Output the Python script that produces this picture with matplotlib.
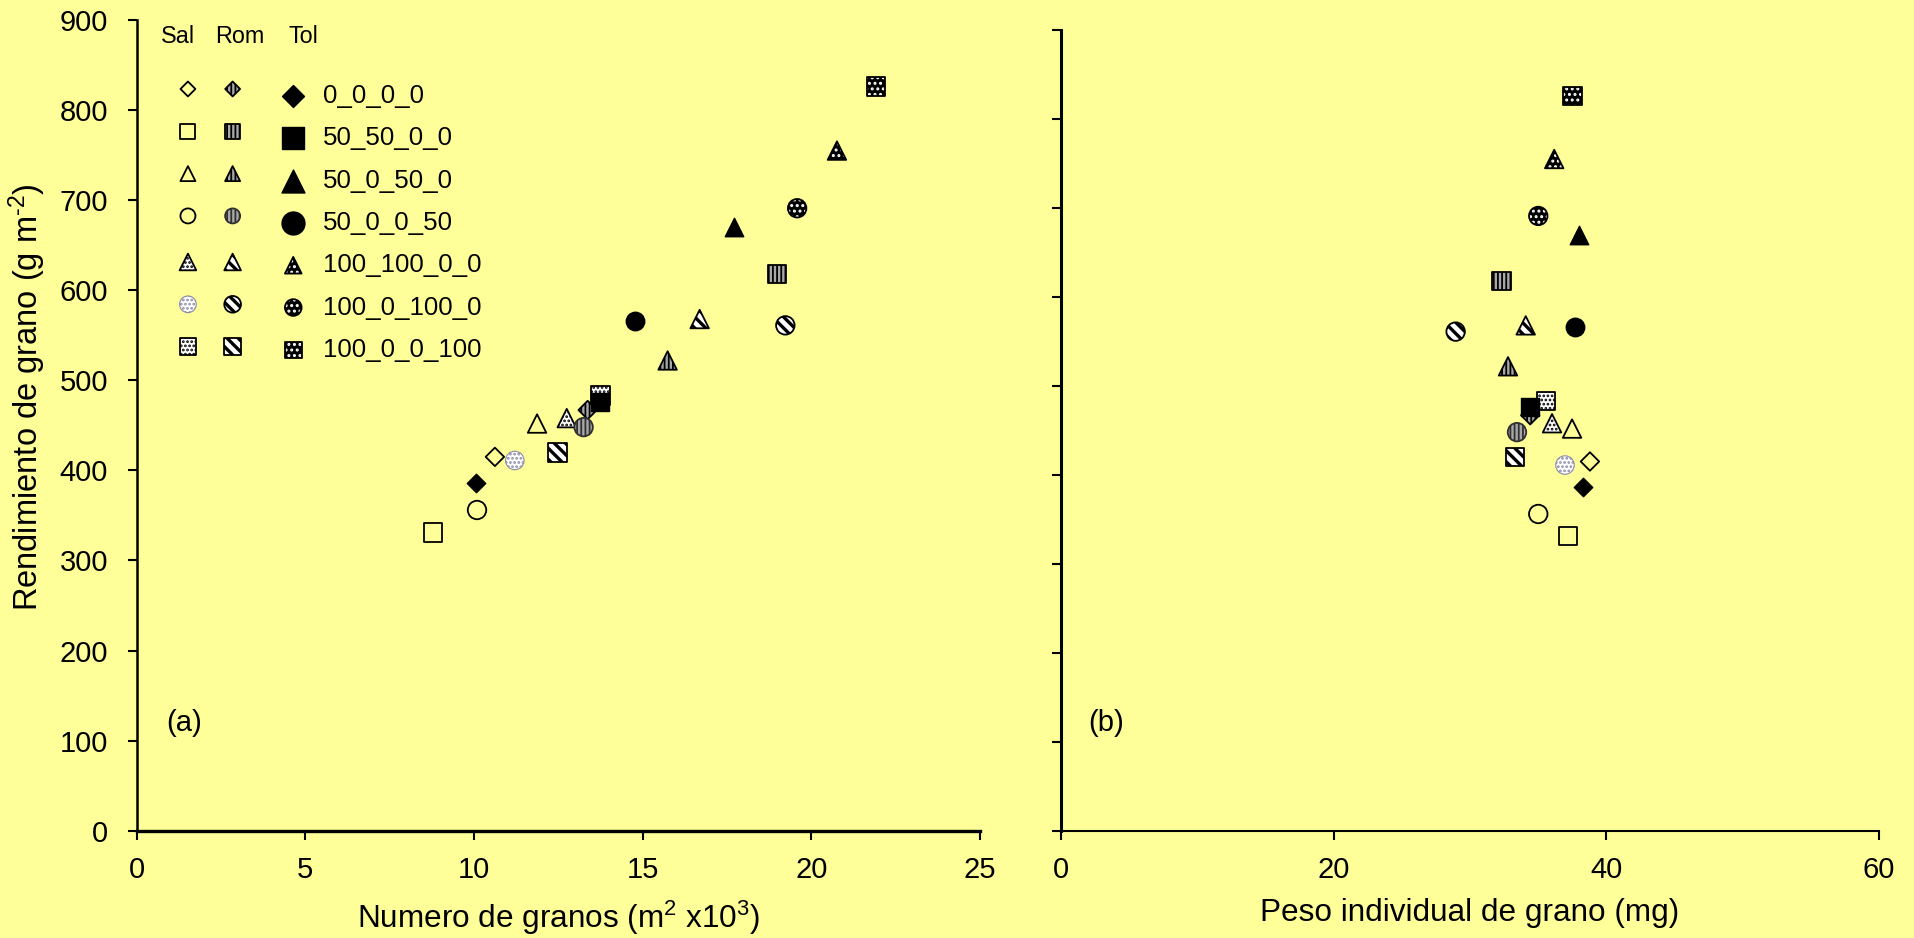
import matplotlib
matplotlib.use('Agg')
import matplotlib.pyplot as plt

plt.rcParams['font.family'] = ['Liberation Sans', 'DejaVu Sans']
plt.rcParams['mathtext.fontset'] = 'custom'
plt.rcParams['mathtext.rm'] = 'Liberation Sans'
plt.rcParams['mathtext.it'] = 'Liberation Sans:italic'

# Treatments (N fertilisation splits) and cultivars
treatments = ['0_0_0_0', '50_50_0_0', '50_0_50_0', '50_0_0_50',
              '100_100_0_0', '100_0_100_0', '100_0_0_100']
cultivars = ['Sal', 'Rom', 'Tol']

# Grain yield (g m-2)
sal_yield = [415, 331, 452, 356, 458, 411, 483]
rom_yield = [467, 618, 522, 448, 568, 561, 420]
tol_yield = [386, 476, 670, 566, 755, 691, 826]

# Grain number (m-2 x10^3)
sal_num = [10.62, 8.78, 11.87, 10.09, 12.75, 11.21, 13.75]
rom_num = [13.37, 18.99, 15.74, 13.25, 16.69, 19.23, 12.47]
tol_num = [10.06, 13.74, 17.70, 14.77, 20.76, 19.58, 21.92]

# Individual grain weight (mg)
sal_weight = [38.8, 37.21, 37.49, 35.01, 36.02, 36.97, 35.58]
rom_weight = [34.42, 32.33, 32.79, 33.45, 34.09, 28.95, 33.3]
tol_weight = [38.31, 34.42, 38.02, 37.68, 36.18, 35.01, 37.53]

bg = '#FFFF99'
markers = ['D', 's', '^', 'o', '^', 'o', 's']
# data marker sizes (points) per marker type
data_ms = {'D': 9.4, 's': 13.3, '^': 13.3, 'o': 13.3}


def style(cultivar, i):
    """Fill, edge, hatch, hatch width for one cultivar / treatment."""
    if cultivar == 'Sal':
        if i < 4:
            return dict(facecolors='none', edgecolors='black', hatch=None, linewidths=1.3), 1.0
        if i == 5:
            return dict(facecolors='white', edgecolors='#8a8aa8', hatch='....', linewidths=0.8), 1.3
        return dict(facecolors='white', edgecolors='black', hatch='....', linewidths=1.3), 1.3
    if cultivar == 'Rom':
        if i < 4:
            edge = '#303030' if i == 3 else 'black'
            return dict(facecolors='#a8a8a8', edgecolors=edge, hatch='||||', linewidths=1.3), 1.3
        return dict(facecolors='white', edgecolors='black', hatch='\\\\\\', linewidths=1.3), 2.4
    # Tol
    if i < 4:
        return dict(facecolors='black', edgecolors='black', hatch=None, linewidths=1.0), 1.0
    return dict(facecolors='black', edgecolors='white', hatch='...', linewidths=0.0), 1.4


def draw_marker(ax, x, y, m, size, cultivar, i, **kw):
    kwargs, hlw = style(cultivar, i)
    with plt.rc_context({'hatch.linewidth': hlw}):
        ax.scatter(x, y, marker=m, s=size, **kwargs, **kw)
    # black border drawn over white-hatched Tol markers
    if cultivar == 'Tol' and i >= 4:
        ax.scatter(x, y, marker=m, s=size, facecolors='none', edgecolors='black',
                   linewidths=1.3, **kw)


def plot_panel(ax, xs):
    for cultivar, xv, yv in zip(cultivars, xs, [sal_yield, rom_yield, tol_yield]):
        for i in range(len(treatments)):
            m = markers[i]
            draw_marker(ax, [xv[i]], [yv[i]], m, data_ms[m] ** 2, cultivar, i, zorder=3)


def format_axes(ax, xmax, xstep, left_w, bottom_w, show_ylabels):
    ax.set_facecolor(bg)
    ax.set_xlim(0, xmax)
    ax.set_ylim(0, 900)
    ax.set_xticks(range(0, xmax + 1, xstep))
    ax.set_yticks(range(0, 901, 100))
    ax.spines['top'].set_visible(False)
    ax.spines['right'].set_visible(False)
    ax.spines['left'].set_linewidth(left_w)
    ax.spines['bottom'].set_linewidth(bottom_w)
    ax.tick_params(axis='both', direction='out', length=6.5, width=1.5, labelsize=21)
    ax.tick_params(axis='y', pad=14)
    ax.tick_params(axis='x', pad=12)
    if not show_ylabels:
        ax.set_yticklabels([])


fig = plt.figure(figsize=(19.14, 9.38), dpi=100, facecolor=bg)
ax1 = fig.add_axes([0.0714, 0.1144, 0.4406, 0.8643])
ax2 = fig.add_axes([0.5543, 0.1144, 0.4274, 0.8536])

format_axes(ax1, 25, 5, 1.8, 2.4, True)
format_axes(ax2, 60, 20, 2.2, 1.5, False)

plot_panel(ax1, [sal_num, rom_num, tol_num])
plot_panel(ax2, [sal_weight, rom_weight, tol_weight])

ax1.set_xlabel('Numero de granos (m$^{2}$ x10$^{3}$)', fontsize=22.7, labelpad=10)
ax1.set_ylabel('Rendimiento de grano (g m$^{\\text{-}2}$)', fontsize=23.5,
               va='center')
ax1.yaxis.set_label_coords(-0.130, 0.535)
ax2.set_xlabel('Peso individual de grano (mg)', fontsize=22.7, labelpad=10)

ax1.text(0.056, 0.133, '(a)', transform=ax1.transAxes, fontsize=21,
         ha='center', va='center')
ax2.text(0.055, 0.1345, '(b)', transform=ax2.transAxes, fontsize=21,
         ha='center', va='center')

# Custom legend: one marker column per cultivar, label on the right
col_x = [0.0608, 0.1138, 0.1857]
for name, hx in zip(cultivars, [0.0494, 0.1225, 0.1975]):
    ax1.text(hx, 0.9794, name, transform=ax1.transAxes, fontsize=16.8,
             ha='center', va='center')

small_ms = {'D': 7.6, 's': 10.8, '^': 10.8, 'o': 10.8}
big_ms = {'D': 11.2, 's': 16.5, '^': 16.5, 'o': 16.5}
for i, lab in enumerate(treatments):
    row_y = 0.9063 - i * 0.0522
    m = markers[i]
    for j, cultivar in enumerate(cultivars):
        if i >= 4:
            ms = 12
            yy = row_y + (0.004 if j < 2 else 0.0)
        elif cultivar == 'Tol':
            ms = big_ms[m]
            yy = row_y
        else:
            ms = small_ms[m]
            yy = row_y + 0.0086
        draw_marker(ax1, [col_x[j]], [yy], m, ms ** 2, cultivar, i,
                    transform=ax1.transAxes, clip_on=False, zorder=4)
    ax1.text(0.221, row_y, lab, transform=ax1.transAxes, fontsize=18.6,
             ha='left', va='center')

fig.savefig('out.png', dpi=100, facecolor=bg)
